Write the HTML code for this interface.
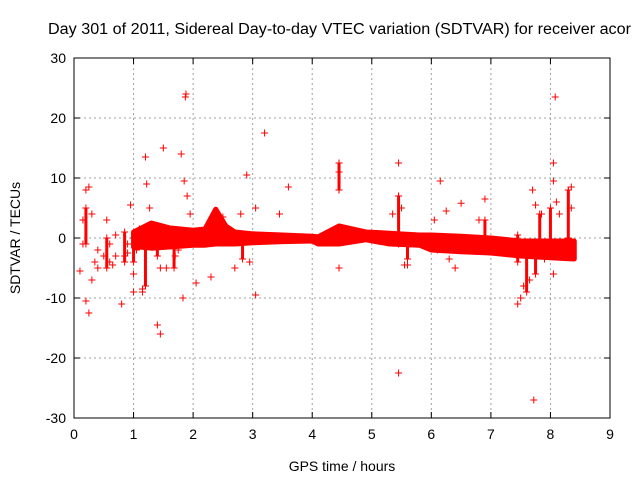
<!DOCTYPE html>
<html><head><meta charset="utf-8"><style>
body{margin:0;background:#fff;}
svg{display:block;font-family:"Liberation Sans",sans-serif;}
</style></head><body>
<svg id="chart" width="640" height="480" xmlns="http://www.w3.org/2000/svg">
<rect width="640" height="480" fill="#fff"/>
<text x="48" y="34" font-size="15.5" textLength="583" lengthAdjust="spacingAndGlyphs" fill="#000">Day 301 of 2011, Sidereal Day-to-day VTEC variation (SDTVAR) for receiver acor</text>
<g id="grid"></g>
<g id="marks"></g>
<g id="axes"></g>
<text x="342" y="471" font-size="14" text-anchor="middle">GPS time / hours</text>
<text transform="translate(20,238) rotate(-90)" font-size="14" text-anchor="middle">SDTVAR / TECUs</text>
</svg>
<script>
const xTicks=[0,1,2,3,4,5,6,7,8,9];
const yTicks=[-30,-20,-10,0,10,20,30];
const bandT=[1.0,1.1,1.3,1.6,2.0,2.2,2.38,2.55,2.7,3.0,3.5,4.0,4.1,4.45,4.9,5.3,5.8,6.0,6.5,7.0,7.5,8.0,8.4];
const bandHi=[1.0,1.5,2.5,1.7,1.3,1.5,4.8,2.0,1.0,0.7,0.5,0.3,0.2,2.0,1.0,0.8,0.5,0.5,0.3,0.0,-0.5,-0.5,-0.5];
const bandLo=[-1.5,-1.5,-1.7,-1.5,-1.2,-1.2,-1.0,-1.0,-1.0,-0.8,-0.6,-0.5,-1.0,-1.0,-0.3,-1.0,-1.2,-2.0,-2.3,-2.5,-3.0,-3.3,-3.5];
const streakT=[0.2,0.55,0.85,1.0,1.2,1.4,1.68,2.83,4.45,5.45,5.6,6.35,6.9,7.45,7.6,7.75,7.82,8.0,8.3];
const streakLo=[-1,-5,-4,-4,-8,-3,-5,-3.5,8,-1,-3.5,-2,0,-4,-9,-6,-3,-3,0];
const streakHi=[5,0,1,0,-1,-1,-1,-1,12.5,7,-1,0,3,0.5,-1,-1,4,5,8];
const ptT=[0.1,0.15,0.2,0.25,0.2,0.25,0.3,0.35,0.4,0.5,0.55,0.6,0.7,0.8,0.85,0.9,0.95,0.9,0.6,0.65,0.3,0.15,0.4,1.0,1.05,1.15,1.15,1.2,1.22,1.4,1.45,1.5,1.45,1.55,1.7,1.8,1.83,1.85,1.87,1.88,1.9,1.95,2.05,2.3,2.7,2.9,2.95,3.05,3.05,3.2,3.45,3.6,4.45,4.45,4.45,4.45,5.45,5.45,5.45,5.5,5.55,5.6,5.35,6.15,6.25,6.5,6.9,6.8,7.45,7.5,7.55,7.65,7.7,7.72,7.75,7.85,8.05,8.05,8.08,8.1,8.15,8.3,8.35,8.35,7.9,8.05,6.1,6.3,6.4,6.95,1.27,1.0,1.1,0.7,1.75,2.8,2.5,6.05,7.3];
const ptV=[-5.5,3,8,8.5,-10.5,-12.5,-7,-4,-5,-3,3,-1,-3,-11,-3,-2.5,5.5,-1,-4,-4.5,4,-1,-2,-9,-2,-9,-8.5,13.5,9,-14.5,-16,15,-5,-5,-3,14,-10,9.5,23.5,24,7,4,-7.5,-6.5,-5,10.5,-4,-9.5,5,17.5,4,8.5,12.5,11,8,-5,12.5,-22.5,7,5,-4.5,-4.5,4,9.5,4.5,5.8,6.5,3,-11,-10,-8,-7,8,-27,5.5,4,12.5,9.5,23.5,6,4,8,8.5,5,-3.5,-6,-2,-3.5,-5,-2,5,-6,1.5,0.5,-2,4,3.5,3,-1.5];
const X0=74,X1=610,Y0=418,Y1=58;
const xs=t=>X0+(t-0)/(9-0)*(X1-X0);
const ys=v=>Y0-(v+30)/60*(Y0-Y1);
const NS='http://www.w3.org/2000/svg';
function mk(tag,attrs,parent){const e=document.createElementNS(NS,tag);for(const k in attrs)e.setAttribute(k,attrs[k]);parent.appendChild(e);return e;}
const grid=document.getElementById('grid'),marks=document.getElementById('marks'),axes=document.getElementById('axes');
xTicks.forEach(t=>{
  if(t>0&&t<9){const l=mk('line',{x1:xs(t),x2:xs(t),y1:Y1,y2:Y0,stroke:'#a0a0a0','stroke-dasharray':'2,3'},grid);
  
  }
  const tk=mk('path',{d:`M${xs(t)},${Y0}v-6M${xs(t)},${Y1}v6`,stroke:'#000'},axes);
  
  
  const tx=mk('text',{x:xs(t),y:Y0+21,'font-size':14,'text-anchor':'middle'},axes);tx.textContent=t;
  
  
});
yTicks.forEach(v=>{
  if(v>-30&&v<30){const l=mk('line',{x1:X0,x2:X1,y1:ys(v),y2:ys(v),stroke:'#a0a0a0','stroke-dasharray':'2,3'},grid);
  
  }
  const tk=mk('path',{d:`M${X0},${ys(v)}h6M${X1},${ys(v)}h-6`,stroke:'#000'},axes);
  
  
  const tx=mk('text',{x:X0-8,y:ys(v)+5,'font-size':14,'text-anchor':'end'},axes);tx.textContent=v;
  
  
});
const fr=mk('rect',{x:X0,y:Y1,width:X1-X0,height:Y0-Y1,fill:'none',stroke:'#000'},axes);


let d='M'+bandT.map((t,i)=>xs(t)+','+ys(bandHi[i])).join('L');
for(let i=bandT.length-1;i>=0;i--)d+='L'+xs(bandT[i])+','+ys(bandLo[i]);
const band=mk('path',{d:d+'Z',fill:'#ff0000',stroke:'#ff0000','stroke-width':5,'stroke-linejoin':'round'},marks);


function plus(x,y,name){const p=mk('path',{d:`M${x-3.5},${y}h7M${x},${y-3.5}v7`,stroke:'#ff0000','stroke-width':1},marks);
  
  }
streakT.forEach((t,i)=>{
  const l=mk('line',{x1:xs(t),x2:xs(t),y1:ys(streakLo[i]),y2:ys(streakHi[i]),stroke:'#ff0000','stroke-width':3},marks);
  
  
  plus(xs(t),ys(streakLo[i]),'data-point');plus(xs(t),ys(streakHi[i]),'data-point');
});
ptT.forEach((t,i)=>plus(xs(t),ys(ptV[i]),'data-point'));
</script>
</body></html>
